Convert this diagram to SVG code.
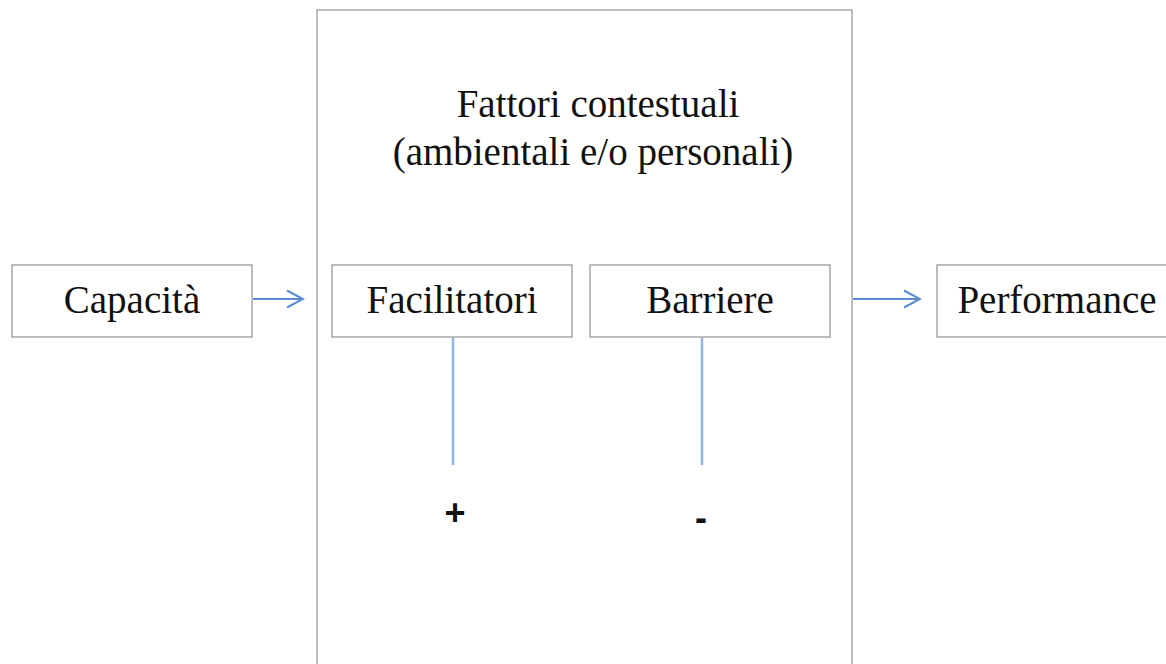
<svg xmlns="http://www.w3.org/2000/svg" width="1166" height="664" viewBox="0 0 1166 664">
<style>
.box{fill:#fff;stroke:#a6a6a6;stroke-width:1.5}
.lbl{font-family:"Liberation Serif","Times New Roman",serif;font-size:39px;fill:#111;text-anchor:middle}
.sign{font-family:"Liberation Sans",Arial,sans-serif;font-weight:bold;font-size:36px;fill:#111;text-anchor:middle}
.arr{fill:none;stroke:#5b8bd0;stroke-width:2}
.vl{stroke:#8fb3e2;stroke-width:2.5}
</style>
<defs>
<marker id="open" viewBox="0 0 20 20" refX="18" refY="10" markerWidth="20" markerHeight="20" markerUnits="userSpaceOnUse" orient="auto">
<path d="M2,1.5 L18,10 L2,18.5" fill="none" stroke="#5b8bd0" stroke-width="2"/>
</marker>
</defs>
<g id="contesto">
<rect class="box" x="317" y="10" width="535" height="680"/>
<text class="lbl" x="598" y="117">Fattori contestuali</text>
<text class="lbl" x="593" y="165">(ambientali e/o personali)</text>
</g>
<g id="capacita">
<rect class="box" x="12" y="265" width="240" height="72"/>
<text class="lbl" x="132" y="313">Capacità</text>
</g>
<g id="facilitatori">
<rect class="box" x="332" y="265" width="240" height="72"/>
<text class="lbl" x="452" y="313">Facilitatori</text>
</g>
<g id="barriere">
<rect class="box" x="590" y="265" width="240" height="72"/>
<text class="lbl" x="710" y="313">Barriere</text>
</g>
<g id="performance">
<rect class="box" x="937" y="265" width="240" height="72"/>
<text class="lbl" x="1057" y="313">Performance</text>
</g>
<g id="segni">
<text class="sign" x="455" y="525">+</text>
<text class="sign" x="701" y="530">-</text>
</g>
<g id="connectors">
<line class="arr" x1="253" y1="299" x2="303" y2="299" marker-end="url(#open)"/>
<line class="arr" x1="853" y1="299" x2="920" y2="299" marker-end="url(#open)"/>
<line class="vl" x1="453" y1="338" x2="453" y2="465"/>
<line class="vl" x1="702" y1="338" x2="702" y2="465"/>
</g>
</svg>
